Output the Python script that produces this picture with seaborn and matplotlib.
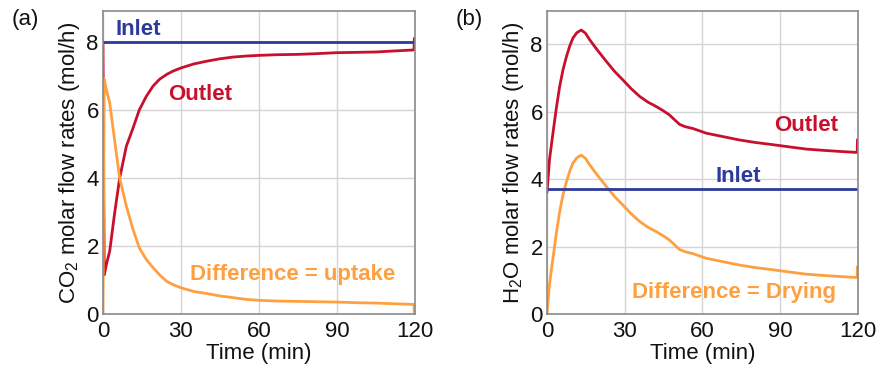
import numpy as np
import pandas as pd
import matplotlib
matplotlib.use("Agg")
import matplotlib.pyplot as plt
import seaborn as sns

# ---------------- data ----------------
co2_time = [0.0, 0.5, 1.3, 2.6, 4.5, 6.4, 9, 11.5, 14, 16.7, 19.3, 21.8, 24.5, 27, 30, 35, 40, 45, 50, 55, 60, 67, 75, 82, 90, 98, 105, 112, 119.7, 119.8]
co2_outlet = [8.0, 1.15, 1.45, 1.85, 2.97, 3.98, 4.93, 5.45, 6.0, 6.4, 6.7, 6.9, 7.04, 7.14, 7.23, 7.35, 7.43, 7.5, 7.55, 7.58, 7.6, 7.62, 7.63, 7.65, 7.68, 7.69, 7.7, 7.73, 7.76, 8.1]
co2_diff = [0.0, 6.9, 6.6, 6.2, 5.1, 4.0, 3.17, 2.5, 1.94, 1.6, 1.36, 1.15, 0.96, 0.86, 0.77, 0.66, 0.6, 0.53, 0.48, 0.43, 0.4, 0.38, 0.37, 0.36, 0.35, 0.33, 0.32, 0.3, 0.28, 0.0]
co2_inlet = 8.0

h2o_time = [0.0, 1.0, 2.3, 3.6, 4.9, 6.2, 7.5, 8.8, 10, 11.5, 13.2, 14.8, 16.5, 19.5, 22.9, 26, 29.3, 32.5, 35.8, 39, 42.2, 45, 47.3, 49.5, 51.2, 53.5, 56.3, 61.5, 67.9, 74.3, 80, 87.2, 94, 100, 107, 113, 119.7, 119.8]
h2o_outlet = [3.6, 4.6, 5.36, 6.1, 6.75, 7.25, 7.63, 7.95, 8.18, 8.34, 8.42, 8.33, 8.13, 7.82, 7.49, 7.2, 6.94, 6.68, 6.45, 6.28, 6.15, 6.02, 5.9, 5.74, 5.62, 5.55, 5.5, 5.36, 5.26, 5.16, 5.09, 5.02, 4.95, 4.89, 4.85, 4.82, 4.79, 5.17]
h2o_diff = [0.0, 0.9, 1.65, 2.39, 3.04, 3.54, 3.92, 4.24, 4.47, 4.63, 4.71, 4.62, 4.42, 4.11, 3.78, 3.49, 3.23, 2.97, 2.74, 2.57, 2.44, 2.31, 2.19, 2.03, 1.91, 1.84, 1.79, 1.65, 1.55, 1.45, 1.38, 1.31, 1.24, 1.18, 1.14, 1.11, 1.08, 1.41]
h2o_inlet = 3.71

x_ticks = [0, 30, 60, 90, 120]
y_ticks = [0, 2, 4, 6, 8]

# ---------------- style ----------------
sns.set_style("whitegrid")
plt.rcParams["font.family"] = ["Liberation Sans", "DejaVu Sans"]
plt.rcParams["mathtext.fontset"] = "custom"
plt.rcParams["mathtext.rm"] = "Liberation Sans"
plt.rcParams["mathtext.it"] = "Liberation Sans:italic"
plt.rcParams["mathtext.bf"] = "Liberation Sans:bold"

C_IN = "#2B3A9B"
C_OUT = "#C8102E"
C_DIFF = "#FFA040"
FS = 16

fig = plt.figure(figsize=(8.77, 3.72), dpi=100)
ax_a = fig.add_axes([0.1174, 0.156, 0.3556, 0.814])
ax_b = fig.add_axes([0.6237, 0.156, 0.3546, 0.814])

def style(ax, ylabel, ytop):
    ax.set_xlim(0, 120)
    ax.set_ylim(0, ytop)
    ax.set_xticks(x_ticks)
    ax.set_yticks(y_ticks)
    ax.tick_params(axis="both", labelsize=FS, length=0, colors="#111111")
    ax.tick_params(axis="x", pad=5)
    ax.tick_params(axis="y", pad=3)
    ax.grid(True, color="#d4d4d4", linewidth=1.0)
    for s in ax.spines.values():
        s.set_color("#8a8a8a")
        s.set_linewidth(1.2)
    ax.set_xlabel("Time (min)", fontsize=FS, labelpad=1, color="#111111")
    ax.set_ylabel(ylabel, fontsize=FS, labelpad=3, color="#111111")

# panel (a)
dfa = pd.DataFrame({"t": co2_time, "out": co2_outlet, "diff": co2_diff})
sns.lineplot(data=dfa, x="t", y="out", ax=ax_a, color=C_OUT, linewidth=2)
sns.lineplot(data=dfa, x="t", y="diff", ax=ax_a, color=C_DIFF, linewidth=2)
ax_a.axhline(co2_inlet, color=C_IN, linewidth=2)
style(ax_a, r"CO$_2$ molar flow rates (mol/h)", 8.9)
ax_a.text(5, 8.35, "Inlet", color=C_IN, fontsize=FS, fontweight="bold", va="center", ha="left")
ax_a.text(25, 6.44, "Outlet", color=C_OUT, fontsize=FS, fontweight="bold", va="center", ha="left")
ax_a.text(33.5, 1.15, "Difference = uptake", color=C_DIFF, fontsize=FS, fontweight="bold", va="center", ha="left")

# panel (b)
dfb = pd.DataFrame({"t": h2o_time, "out": h2o_outlet, "diff": h2o_diff})
sns.lineplot(data=dfb, x="t", y="out", ax=ax_b, color=C_OUT, linewidth=2)
sns.lineplot(data=dfb, x="t", y="diff", ax=ax_b, color=C_DIFF, linewidth=2)
ax_b.axhline(h2o_inlet, color=C_IN, linewidth=2)
style(ax_b, r"H$_2$O molar flow rates (mol/h)", 8.98)
ax_b.text(87.6, 5.6, "Outlet", color=C_OUT, fontsize=FS, fontweight="bold", va="center", ha="left")
ax_b.text(64.9, 4.09, "Inlet", color=C_IN, fontsize=FS, fontweight="bold", va="center", ha="left")
ax_b.text(32.8, 0.65, "Difference = Drying", color=C_DIFF, fontsize=FS, fontweight="bold", va="center", ha="left")

fig.text(0.013, 0.975, "(a)", fontsize=FS, va="top", ha="left", color="#111111")
fig.text(0.52, 0.975, "(b)", fontsize=FS, va="top", ha="left", color="#111111")

fig.savefig("out.png", dpi=100)
